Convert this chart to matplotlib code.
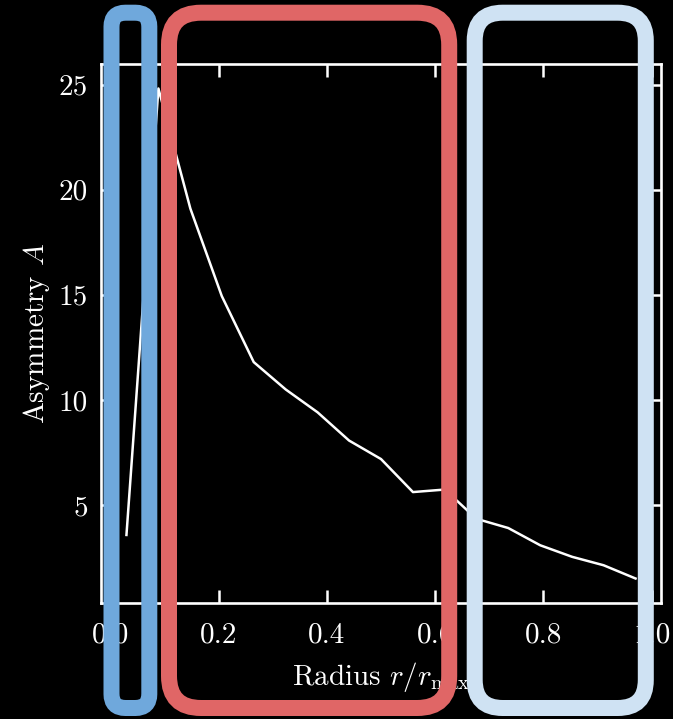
import matplotlib
matplotlib.use("Agg")
import matplotlib.pyplot as plt
from matplotlib.patches import FancyBboxPatch

# Data
radius = [0.03, 0.089, 0.148, 0.206, 0.265, 0.324, 0.383, 0.441, 0.5,
          0.559, 0.618, 0.676, 0.735, 0.794, 0.853, 0.911, 0.97]
asymmetry = [3.58, 24.81, 19.1, 14.94, 11.8, 10.5, 9.41, 8.07, 7.19,
             5.62, 5.74, 4.35, 3.91, 3.09, 2.54, 2.14, 1.51]
xticks = [0.0, 0.2, 0.4, 0.6, 0.8, 1.0]
yticks = [5, 10, 15, 20, 25]

plt.rcParams['font.family'] = 'serif'
plt.rcParams['font.serif'] = ['cmr10', 'DejaVu Serif']
plt.rcParams['mathtext.fontset'] = 'cm'
plt.rcParams['axes.unicode_minus'] = False
plt.rcParams['axes.formatter.use_mathtext'] = True

W, H = 673, 719
fig = plt.figure(figsize=(W / 100, H / 100), dpi=100, facecolor='black')
ax = fig.add_axes([101 / W, 1 - 603 / H, 560 / W, 539 / H], facecolor='black')

ax.plot(radius, asymmetry, color='white', lw=1.8)

ax.set_xticks(xticks)
ax.set_yticks(yticks)
ax.set_xticklabels([f"{t:.1f}" for t in xticks])
ax.set_yticklabels([str(t) for t in yticks])
ax.tick_params(direction='in', top=True, right=True, length=9.5, width=1.8,
               color='white', labelcolor='white', labelsize=21)
ax.tick_params(axis='x', pad=14)
ax.tick_params(axis='y', pad=9.5)
for s in ax.spines.values():
    s.set_color('white')
    s.set_linewidth(1.9)

ax.set_xlabel(r'Radius $r/r_{\rm max}$', color='white', fontsize=21, labelpad=8)
ax.set_ylabel(r'Asymmetry $A$', color='white', fontsize=21, labelpad=5)

# rounded highlight frames (pixel coords of stroke centre line, y from top)
frames = [
    (111.5, 149.3, 12.7, 708.0, 14, '#6fa8dc'),
    (169.0, 449.2, 12.7, 708.0, 32, '#e06666'),
    (474.7, 645.8, 12.7, 708.0, 28, '#cfe2f3'),
]
for x0, x1, y0, y1, rad, col in frames:
    box = FancyBboxPatch(((x0) / 100, (H - y1) / 100), (x1 - x0) / 100, (y1 - y0) / 100,
                         boxstyle=f"round,pad=0,rounding_size={rad / 100}",
                         transform=fig.dpi_scale_trans, fill=False,
                         edgecolor=col, lw=16 * 0.72, zorder=10)
    fig.patches.append(box)

fig.savefig('out.png', dpi=100, facecolor='black')
